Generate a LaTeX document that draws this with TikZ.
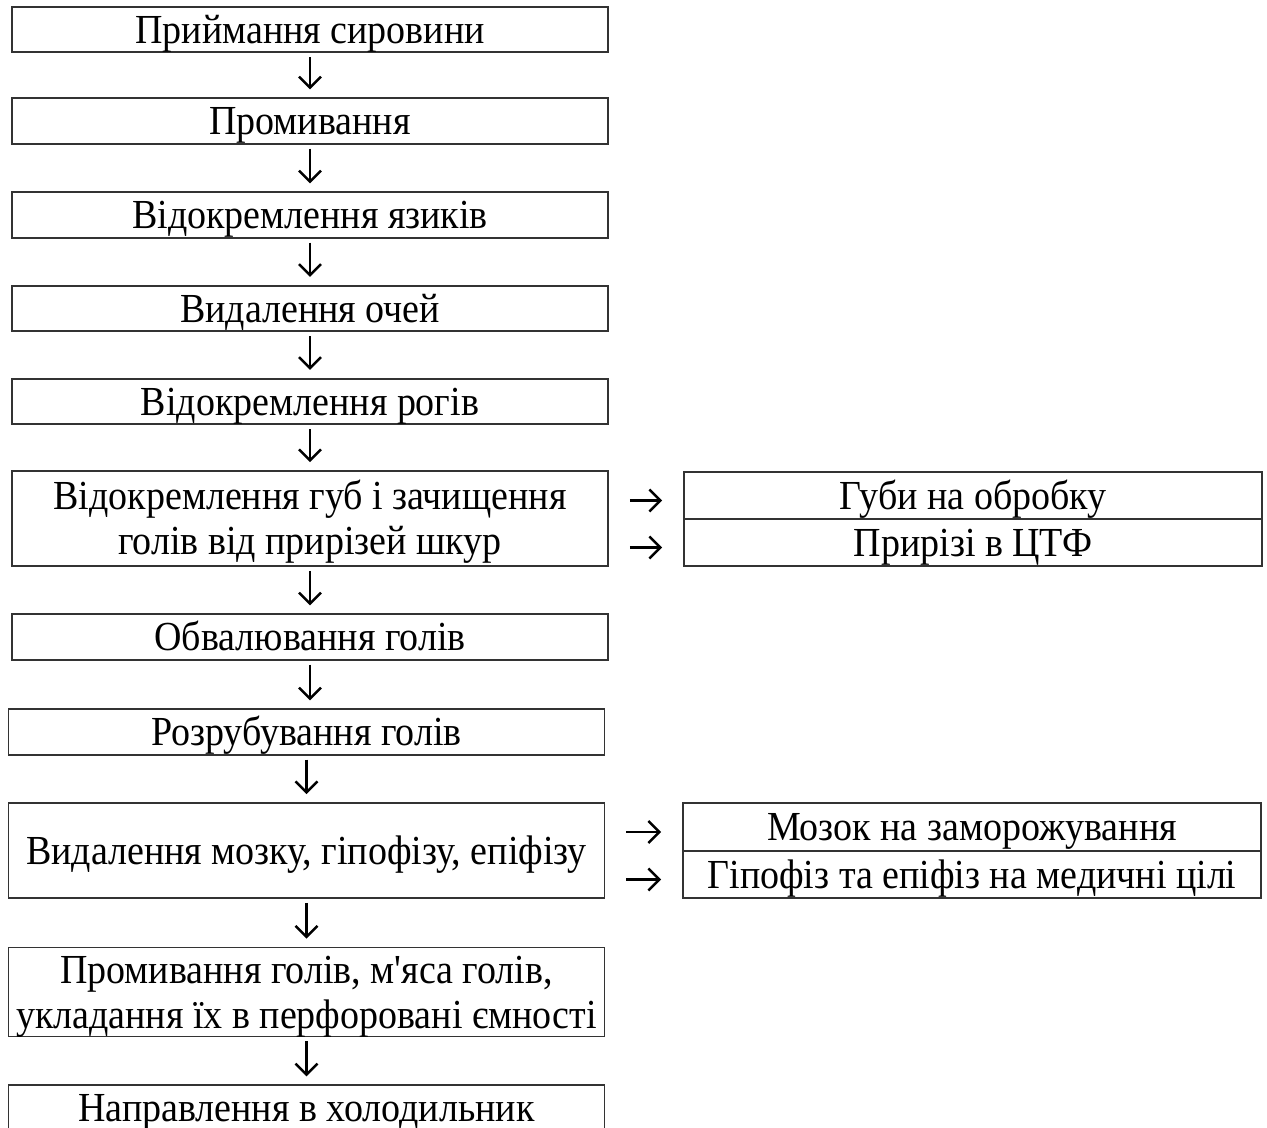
\documentclass[tikz,border=0pt]{standalone}
\usepackage{fontspec}
\setmainfont{Liberation Serif}[Ligatures=TeXOff,FakeStretch=0.92]
\usetikzlibrary{arrows.meta}
\tikzset{stage/.style={draw=black!80,line width=1pt,minimum width=11.92cm,minimum height=0.91cm,inner sep=0pt,align=center,text height=0.55cm,text depth=0pt,font=\fontsize{23.5}{25.6}\selectfont},
	twoline/.style={text height=1.45cm},
	product/.style={stage,minimum width=11.56cm,minimum height=0.95cm},
	arr/.style={-{Straight Barb[length=0.22cm,width=0.44cm,line width=1.4pt]},line width=1.2pt}}

\begin{document}
\begin{tikzpicture}[x=0.02cm,y=-0.02cm]
			\clip (0,0) rectangle (1267,1128);
			\node[stage] (b1) at (310,29.5) {Приймання сировини};
			\node[stage] (b2) at (310,121) {Промивання};
			\node[stage] (b3) at (310,215) {Відокремлення язиків};
			\node[stage] (b4) at (310,308.5) {Видалення очей};
			\node[stage] (b5) at (310,401.5) {Відокремлення рогів};
			\node[stage,twoline,minimum height=1.9cm] (b6) at (310,518.5) {Відокремлення губ і зачищення\\голів від прирізей шкур};
			\node[product] (r1) at (973,495.5) {Губи на обробку};
			\node[product] (r2) at (973,542.5) {Прирізі в ЦТФ};
			\node[stage] (b7) at (310,637) {Обвалювання голів};
			\node[stage] (b8) at (306.5,732) {Розрубування голів};
			\node[stage,minimum height=1.9cm] (b9) at (306.5,850.5) {Видалення мозку, гіпофізу, епіфізу};
			\node[product] (r3) at (972,827) {Мозок на заморожування};
			\node[product] (r4) at (972,874.5) {Гіпофіз та епіфіз на медичні цілі};
			\node[stage,twoline,minimum height=1.78cm] (b10) at (306.5,992) {Промивання голів, м'яса голів,\\укладання їх в перфоровані ємності};
			\node[stage] (b11) at (306.5,1108) {Направлення в холодильник};
			% arrows down
			\foreach \a/\b in {b1/b2,b2/b3,b3/b4,b4/b5,b5/b6,b6/b7,b7/b8,b8/b9,b9/b10,b10/b11}
				\draw[arr,shorten <=0.08cm,shorten >=0.16cm] (\a.south) -- (\a.south |- \b.north);
			% arrows to the side
			\foreach \a/\b in {b6/r1,b6/r2,b9/r3,b9/r4}
				\draw[arr,shorten <=0.42cm,shorten >=0.42cm] ([yshift=-0.1cm]\a.east |- \b.west) -- ([yshift=-0.1cm]\b.west);
		\end{tikzpicture}
\end{document}
